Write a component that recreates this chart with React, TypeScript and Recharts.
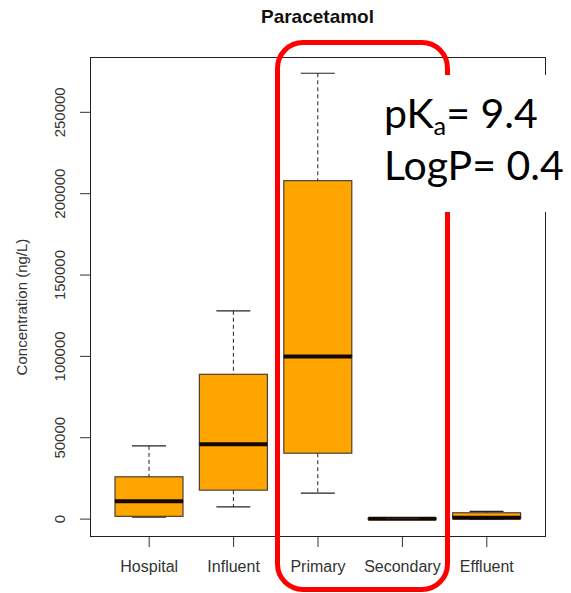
import { ComposedChart, Bar, XAxis, YAxis, Label } from 'recharts'

// five-number summaries per sampling point (ng/L)
const categories = ['Hospital', 'Influent', 'Primary', 'Secondary', 'Effluent']
const whiskerLow = [1200, 7500, 16000, 100, 200]
const quartile1 = [1700, 17800, 40500, 150, 300]
const medians = [10900, 46000, 100000, 250, 900]
const quartile3 = [26000, 89000, 208000, 350, 3900]
const whiskerHigh = [45000, 128000, 274000, 400, 4700]
const yTicks = [0, 50000, 100000, 150000, 200000, 250000]

const BOX_FILL = '#FFA500'
const BOX_STROKE = '#4d4033'
const INK = '#222'
const FONT = '"Liberation Sans", Arial, sans-serif'

// stacked segments: invisible base, lower whisker, lower box, upper box, upper whisker
const data = categories.map((name, i) => ({
  name,
  base: whiskerLow[i],
  lowWhisker: quartile1[i] - whiskerLow[i],
  lowBox: medians[i] - quartile1[i],
  highBox: quartile3[i] - medians[i],
  highWhisker: whiskerHigh[i] - quartile3[i],
}))

const span = (p: any) => {
  const top = Math.min(p.y, p.y + p.height)
  const bottom = Math.max(p.y, p.y + p.height)
  return { top, bottom, cx: p.x + p.width / 2 }
}

const LowWhisker = (p: any) => {
  const { top, bottom, cx } = span(p)
  const half = p.width / 4
  return (
    <g>
      <line x1={cx} x2={cx} y1={top} y2={bottom} stroke={INK} strokeDasharray="4 3" />
      <line x1={cx - half} x2={cx + half} y1={bottom} y2={bottom} stroke={INK} strokeWidth={1.2} />
    </g>
  )
}

const HighWhisker = (p: any) => {
  const { top, bottom, cx } = span(p)
  const half = p.width / 4
  return (
    <g>
      <line x1={cx} x2={cx} y1={top} y2={bottom} stroke={INK} strokeDasharray="4 3" />
      <line x1={cx - half} x2={cx + half} y1={top} y2={top} stroke={INK} strokeWidth={1.2} />
    </g>
  )
}

const LowBox = (p: any) => {
  const { top, bottom } = span(p)
  return <rect x={p.x} y={top} width={p.width} height={bottom - top} fill={BOX_FILL} stroke={BOX_STROKE} strokeWidth={1.2} />
}

// upper half of the box, with the median drawn along its lower edge
const HighBox = (p: any) => {
  const { top, bottom } = span(p)
  return (
    <g>
      <rect x={p.x} y={top} width={p.width} height={bottom - top} fill={BOX_FILL} stroke={BOX_STROKE} strokeWidth={1.2} />
      <line x1={p.x} x2={p.x + p.width} y1={bottom} y2={bottom} stroke="#140600" strokeWidth={4} />
    </g>
  )
}

const YTick = ({ x, y, payload }: any) => (
  <text x={x} y={y} transform={`rotate(-90, ${x}, ${y})`} textAnchor="middle" fontSize={15} fill="#333" fontFamily={FONT}>
    {payload.value}
  </text>
)

export default function App() {
  return (
    <div style={{ position: 'absolute', left: 0, top: 0, width: 571, height: 593, background: '#fff', overflow: 'hidden' }}>
      <div style={{ position: 'absolute', left: 0, width: 571, top: 6, textAlign: 'center', paddingLeft: 64, boxSizing: 'border-box', font: `bold 19px ${FONT}`, color: '#111' }}>
        Paracetamol
      </div>

      <div style={{ position: 'absolute', left: 0, top: 0 }}>
        <ComposedChart width={571} height={593} data={data} margin={{ top: 57, right: 25, bottom: 0, left: 0 }}>
          <XAxis
            dataKey="name"
            padding={{ left: 17, right: 17 }}
            height={56}
            axisLine={false}
            tickSize={10}
            tickMargin={14}
            tickLine={{ stroke: '#333' }}
            tick={{ fontSize: 16, fill: '#333', fontFamily: FONT }}
            interval={0}
          />
          <YAxis
            type="number"
            domain={[-11000, 284000]}
            ticks={yTicks}
            allowDataOverflow
            width={90}
            axisLine={false}
            tickSize={10}
            tickMargin={15}
            tickLine={{ stroke: '#333' }}
            tick={<YTick />}
          >
            <Label
              content={({ viewBox }: any) => {
                const lx = viewBox.x + 27
                const ly = 307
                return (
                  <text x={lx} y={ly} transform={`rotate(-90, ${lx}, ${ly})`} textAnchor="middle" fontSize={15} fill="#333" fontFamily={FONT}>
                    Concentration (ng/L)
                  </text>
                )
              }}
            />
          </YAxis>
          <Bar dataKey="base" stackId="box" fill="transparent" barSize={68} isAnimationActive={false} />
          <Bar dataKey="lowWhisker" stackId="box" barSize={68} shape={LowWhisker} isAnimationActive={false} />
          <Bar dataKey="lowBox" stackId="box" barSize={68} shape={LowBox} isAnimationActive={false} />
          <Bar dataKey="highBox" stackId="box" barSize={68} shape={HighBox} isAnimationActive={false} />
          <Bar dataKey="highWhisker" stackId="box" barSize={68} shape={HighWhisker} isAnimationActive={false} />
        </ComposedChart>
      </div>

      {/* plot frame */}
      <div style={{ position: 'absolute', left: 90, top: 57, width: 456, height: 480, border: '1px solid #222', boxSizing: 'border-box', pointerEvents: 'none' }} />

      {/* highlight around the treatment stages */}
      <div style={{ position: 'absolute', left: 275, top: 40, width: 175, height: 552, border: '5px solid #f00', borderRadius: 28, boxSizing: 'border-box', pointerEvents: 'none' }} />

      <div style={{ position: 'absolute', left: 376, top: 75, width: 200, height: 137, background: '#fff' }} />
      <div style={{ position: 'absolute', left: 384, top: 87, font: `41px Lato, "Open Sans", sans-serif`, color: '#000', lineHeight: '52px', whiteSpace: 'nowrap' }}>
        <div>
          pK<sub style={{ fontSize: '0.62em', verticalAlign: '-0.28em', lineHeight: 0 }}>a</sub>= 9.4
        </div>
        <div>LogP= 0.4</div>
      </div>
    </div>
  )
}
